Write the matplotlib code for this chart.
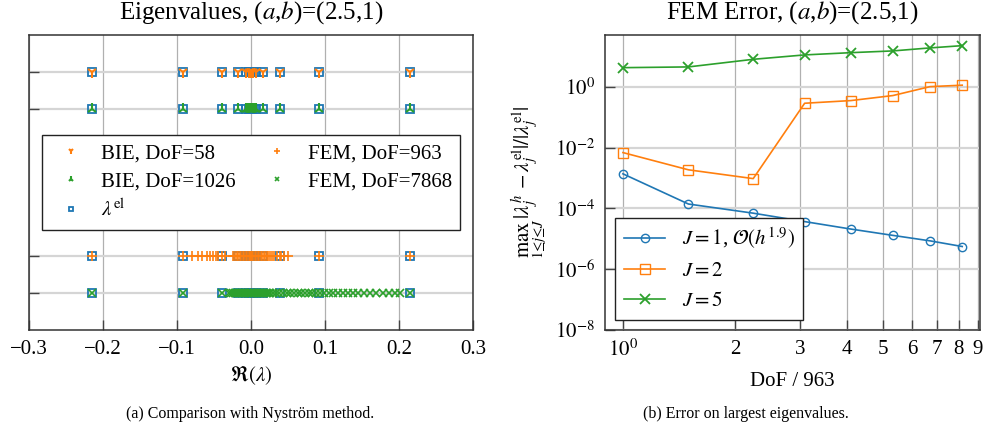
import matplotlib
matplotlib.use('Agg')
import matplotlib.pyplot as plt
from matplotlib.ticker import NullLocator

plt.rcParams['font.family'] = 'serif'
plt.rcParams['font.serif'] = ['Liberation Serif', 'DejaVu Serif']
plt.rcParams['mathtext.fontset'] = 'stix'
plt.rcParams['font.size'] = 15

# ---- left panel data: real parts of eigenvalues ----
lam_el = [-0.2143, -0.0918, -0.0394, -0.0169, -0.0072, -0.0031, -0.0013, -0.0006,
          0.0006, 0.0013, 0.0031, 0.0072, 0.0169, 0.0394, 0.0918, 0.2143]
bie_58 = [-0.2143, -0.0918, -0.0394, -0.0169, -0.0072, -0.0031, -0.0013, -0.0005, 0.0,
          0.0005, 0.0013, 0.0031, 0.0072, 0.0169, 0.0394, 0.0918, 0.2143]
bie_1026 = [-0.2143, -0.0918, -0.0394, -0.0169, -0.0072, -0.0048, -0.0031, -0.0020, -0.0013,
            -0.0006, -0.0002, 0.0, 0.0002, 0.0006, 0.0013, 0.0020, 0.0031, 0.0048, 0.0072,
            0.0169, 0.0394, 0.0918, 0.2143]
fem_963 = [-0.2143, -0.0918, -0.080, -0.072, -0.066, -0.060, -0.055, -0.051, -0.047, -0.044,
           -0.0394, -0.035, -0.024, -0.021, -0.019, -0.017, -0.015, -0.013, -0.011, -0.009,
           -0.007, -0.005, -0.003, -0.001, 0.0, 0.001, 0.003, 0.005, 0.007, 0.009, 0.011,
           0.013, 0.015, 0.017, 0.019, 0.021, 0.023, 0.026, 0.029, 0.031, 0.035, 0.039,
           0.041, 0.045, 0.050, 0.0918, 0.2143]
fem_7868 = [-0.2143, -0.0918, -0.0394, -0.030, -0.027, -0.024, -0.022, -0.020, -0.018, -0.016,
            -0.014, -0.012, -0.010, -0.008, -0.006, -0.004, -0.002, 0.0, 0.002, 0.004, 0.006,
            0.008, 0.010, 0.012, 0.014, 0.016, 0.018, 0.020, 0.022, 0.024, 0.026, 0.030,
            0.034, 0.038, 0.043, 0.048, 0.053, 0.058, 0.063, 0.068, 0.073, 0.078, 0.083,
            0.088, 0.093, 0.099, 0.105, 0.111, 0.117, 0.124, 0.131, 0.138, 0.145, 0.153,
            0.161, 0.169, 0.178, 0.186, 0.194, 0.201, 0.2143]
rows = {'bie_58': 7, 'bie_1026': 6, 'fem_963': 2, 'fem_7868': 1}

# ---- right panel data: relative error vs DoF/963 ----
dof_ratio = [1.0, 1.50, 2.24, 3.08, 4.10, 5.32, 6.69, 8.17]
err_j1 = [1.38e-3, 1.4e-4, 7.0e-5, 3.7e-5, 2.1e-5, 1.3e-5, 8.6e-6, 5.6e-6]
err_j2 = [6.9e-3, 1.87e-3, 9.6e-4, 0.29, 0.355, 0.52, 1.02, 1.14]
err_j5 = [4.3, 4.55, 8.1, 11.3, 13.4, 15.3, 19.2, 22.8]

fig = plt.figure(figsize=(9.86, 4.34), dpi=100)
ax1 = fig.add_axes([0.0294, 0.2396, 0.4503, 0.6797])
ax2 = fig.add_axes([0.6136, 0.2396, 0.3803, 0.6797])

# left panel (squares underneath the other markers)
ax1.plot(bie_58, [rows['bie_58']] * len(bie_58), ls='none', marker='1', color='C1',
         ms=8, mew=1.5, label='BIE, DoF=58', zorder=3)
ax1.plot(bie_1026, [rows['bie_1026']] * len(bie_1026), ls='none', marker='2', color='C2',
         ms=8, mew=1.5, label='BIE, DoF=1026', zorder=3)
el_x = lam_el * 4
el_y = [7] * len(lam_el) + [6] * len(lam_el) + [2] * len(lam_el) + [1] * len(lam_el)
ax1.plot(el_x, el_y, ls='none', marker='s', mfc='none', color='C0', ms=6, mew=1.3,
         label=r'$\lambda^{\mathrm{el}}$', zorder=2)
ax1.plot(fem_963, [rows['fem_963']] * len(fem_963), ls='none', marker='+', color='C1',
         ms=7, mew=1.2, label='FEM, DoF=963', zorder=3)
ax1.plot(fem_7868, [rows['fem_7868']] * len(fem_7868), ls='none', marker='x', color='C2',
         ms=6, mew=1.2, label='FEM, DoF=7868', zorder=3)

ax1.set_xlim(-0.3, 0.3)
ax1.set_ylim(0, 8)
ax1.set_xticks([-0.3, -0.2, -0.1, 0.0, 0.1, 0.2, 0.3])
ax1.set_yticks([1, 2, 6, 7])
ax1.set_yticklabels([])
ax1.grid(axis='x', color='#b0b0b0', lw=0.9)
ax1.grid(axis='y', color='#d5d5d5', lw=1.6)
ax1.set_axisbelow(True)
ax1.set_xlabel(r'$\mathfrak{R}(\lambda)$')
ax1.set_title('Eigenvalues, ($a$,$b$)=(2.5,1)', pad=12)
leg1 = ax1.legend(loc='center', ncol=2, markerscale=0.55, fancybox=False,
                  edgecolor='#222222', framealpha=1, columnspacing=1.0,
                  handletextpad=0.45, labelspacing=0.4)
leg1.get_frame().set_linewidth(1.0)

# right panel
ax2.plot(dof_ratio, err_j1, marker='o', mfc='none', color='C0', ms=6, lw=1.2,
         label=r'$J=1$, $\mathcal{O}(h^{1.9})$')
ax2.plot(dof_ratio, err_j2, marker='s', mfc='none', color='C1', ms=7, lw=1.2,
         label=r'$J=2$')
ax2.plot(dof_ratio, err_j5, marker='x', color='C2', ms=7, mew=1.3, lw=1.2,
         label=r'$J=5$')
ax2.set_xscale('log')
ax2.set_yscale('log')
ax2.set_xlim(0.895, 9.12)
ax2.set_ylim(1e-8, 51)
ax2.set_xticks([1, 2, 3, 4, 5, 6, 7, 8, 9])
ax2.set_xticklabels([r'$10^0$', '2', '3', '4', '5', '6', '7', '8', '9'])
ax2.xaxis.set_minor_locator(NullLocator())
ax2.set_yticks([1e-8, 1e-6, 1e-4, 1e-2, 1e0])
ax2.set_yticklabels([r'$10^{-8}$', r'$10^{-6}$', r'$10^{-4}$', r'$10^{-2}$', r'$10^{0}$'])
ax2.yaxis.set_minor_locator(NullLocator())
ax2.grid(axis='x', color='#b0b0b0', lw=0.9)
ax2.grid(axis='y', color='#d5d5d5', lw=1.6)
ax2.set_axisbelow(True)
ax2.set_xlabel('DoF / 963', labelpad=8)
ax2.set_ylabel(r'$\max_{1\leq j\leq J}\,|\lambda_j^h-\lambda_j^{\mathrm{el}}|/|\lambda_j^{\mathrm{el}}|$')
ax2.set_title('FEM Error, ($a$,$b$)=(2.5,1)', pad=12)
leg2 = ax2.legend(loc='lower left', fancybox=False, edgecolor='#222222', framealpha=1)
leg2.get_frame().set_linewidth(1.0)

for ax in (ax1, ax2):
    for sp in ax.spines.values():
        sp.set_color('#333333')
        sp.set_linewidth(1.1)
    ax.tick_params(direction='in', length=7, width=1.0, color='#444444', pad=7)

fig.text(0.2535, 0.045, '(a) Comparison with Nyström method.', ha='center', va='center',
         fontsize=11.5)
fig.text(0.7565, 0.045, '(b) Error on largest eigenvalues.', ha='center', va='center',
         fontsize=11.5)

fig.savefig('out.png', dpi=100)
